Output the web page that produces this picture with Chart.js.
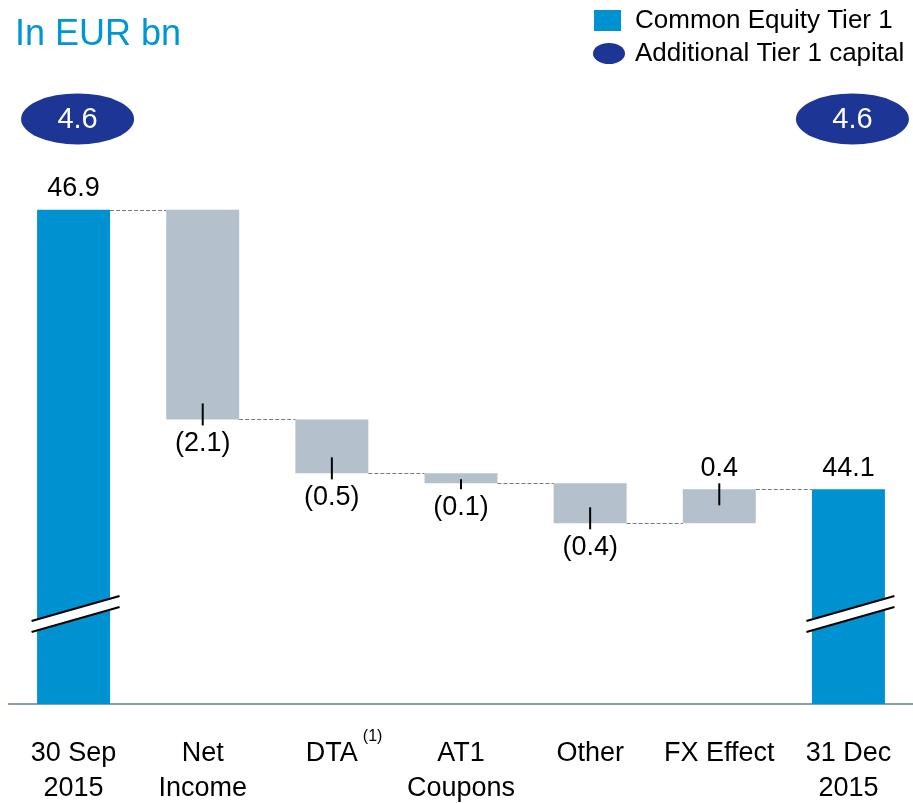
<!DOCTYPE html>
<html>
<head>
<meta charset="utf-8">
<title>CET1 capital walk</title>
<script src="https://cdn.jsdelivr.net/npm/chart.js@4.4.1/dist/chart.umd.min.js"></script>
<style>
  html, body { margin: 0; padding: 0; background: #fff; overflow: hidden; }
  #wrap { width: 913px; height: 803px; }
</style>
</head>
<body>
<div id="wrap"><canvas id="capitalChart" width="913" height="803"></canvas></div>
<script>
// CET1 walk Q3 -> Q4 2015 (EUR bn)

// Data
const categories = [['30 Sep', '2015'], ['Net', 'Income'], ['DTA'], ['AT1', 'Coupons'], ['Other'], ['FX Effect'], ['31 Dec', '2015']];
const footnotes = ['', '', '(1)', '', '', '', ''];
const isTotal = [true, false, false, false, false, false, true];
// CET1 level reached after each column
const cet1Levels = [46.9, 44.8, 44.26, 44.16, 43.76, 44.1, 44.1];
const valueLabels = ['46.9', '(2.1)', '(0.5)', '(0.1)', '(0.4)', '0.4', '44.1'];
const at1Values = [4.6, null, null, null, null, null, 4.6];

// Axis range (broken axis, bottom of the scale is not zero)
const yMin = 41.95;
const yMax = 48.4;
const at1Level = 47.81;   // where the AT1 ovals sit
const breakLevel = 42.84; // where the axis-break marks sit

const FONT = "'Liberation Sans', Arial, sans-serif";
const colors = {
  cet1: '#0091D0',
  step: '#B4C0CC',
  at1: '#1D3594',
  title: '#0096D6',
  axis: '#8A9BB3',
  connector: '#7A7A7A',
  text: '#000000'
};

const barRanges = cet1Levels.map((v, i) => isTotal[i] ? [yMin, v] : [cet1Levels[i - 1], v]);
const barColors = isTotal.map(t => t ? colors.cet1 : colors.step);

// Connectors, value labels, marker ticks, axis breaks, AT1 ovals, title, legend
const overlay = {
  id: 'overlay',
  afterDatasetsDraw(chart) {
    const { ctx, scales: { y } } = chart;
    const bars = chart.getDatasetMeta(0).data;
    ctx.save();

    // dashed connectors
    ctx.strokeStyle = colors.connector;
    ctx.lineWidth = 1;
    ctx.setLineDash([4, 2]);
    for (let i = 0; i < bars.length - 1; i++) {
      const yy = Math.round(y.getPixelForValue(cet1Levels[i])) + 0.5;
      ctx.beginPath();
      ctx.moveTo(bars[i].x + bars[i].width / 2, yy);
      ctx.lineTo(bars[i + 1].x - bars[i + 1].width / 2, yy);
      ctx.stroke();
    }
    ctx.setLineDash([]);

    // small ticks on the movement bars
    ctx.strokeStyle = colors.text;
    ctx.lineWidth = 2;
    bars.forEach((bar, i) => {
      if (isTotal[i]) return;
      const endPx = y.getPixelForValue(cet1Levels[i]);
      const startPx = y.getPixelForValue(cet1Levels[i - 1]);
      const dir = endPx > startPx ? 1 : -1;
      const inward = Math.min(16, Math.abs(endPx - startPx) - 6);
      ctx.beginPath();
      ctx.moveTo(bar.x, endPx - dir * inward);
      ctx.lineTo(bar.x, endPx + dir * 6);
      ctx.stroke();
    });

    // value labels
    ctx.fillStyle = colors.text;
    ctx.font = '27px ' + FONT;
    ctx.textAlign = 'center';
    ctx.textBaseline = 'middle';
    bars.forEach((bar, i) => {
      const endPx = y.getPixelForValue(cet1Levels[i]);
      const startVal = isTotal[i] ? yMin : cet1Levels[i - 1];
      const up = isTotal[i] || cet1Levels[i] >= startVal;
      const topPx = Math.min(endPx, y.getPixelForValue(startVal));
      const botPx = Math.max(endPx, y.getPixelForValue(startVal));
      ctx.fillText(valueLabels[i], bar.x, up ? topPx - 21 : botPx + 24);
    });

    // axis breaks on the total bars
    bars.forEach((bar, i) => {
      if (!isTotal[i]) return;
      const yc = y.getPixelForValue(breakLevel);
      const x0 = bar.x - 42, x1 = bar.x + 46;
      const slope = -25 / 88;
      const y0 = yc - 6 + slope * (x0 - bar.x);
      const y1 = yc - 6 + slope * (x1 - bar.x);
      ctx.fillStyle = '#ffffff';
      ctx.beginPath();
      ctx.moveTo(x0, y0); ctx.lineTo(x1, y1); ctx.lineTo(x1, y1 + 11); ctx.lineTo(x0, y0 + 11);
      ctx.closePath();
      ctx.fill();
      ctx.strokeStyle = colors.text;
      ctx.lineWidth = 2;
      ctx.beginPath();
      ctx.moveTo(x0, y0); ctx.lineTo(x1, y1);
      ctx.moveTo(x0, y0 + 11); ctx.lineTo(x1, y1 + 11);
      ctx.stroke();
    });

    // AT1 ovals
    bars.forEach((bar, i) => {
      if (at1Values[i] == null) return;
      const cx = bar.x + 4;
      const cy = y.getPixelForValue(at1Level);
      ctx.fillStyle = colors.at1;
      ctx.beginPath();
      ctx.ellipse(cx, cy, 56.5, 25.5, 0, 0, Math.PI * 2);
      ctx.fill();
      ctx.fillStyle = '#ffffff';
      ctx.font = '29px ' + FONT;
      ctx.textAlign = 'center';
      ctx.textBaseline = 'middle';
      ctx.fillText(at1Values[i].toFixed(1), cx, cy + 1);
    });
    ctx.restore();
  },
  afterDraw(chart) {
    const { ctx, scales: { x } } = chart;
    ctx.save();

    // footnote superscripts on category labels
    ctx.font = '27px ' + FONT;
    footnotes.forEach((note, i) => {
      if (!note) return;
      const label = Array.isArray(categories[i]) ? categories[i][0] : categories[i];
      const w = ctx.measureText(label).width;
      ctx.save();
      ctx.font = '16px ' + FONT;
      ctx.fillStyle = colors.text;
      ctx.textAlign = 'left';
      ctx.textBaseline = 'middle';
      ctx.fillText(note, x.getPixelForTick(i) + w / 2 + 5, 737);
      ctx.restore();
    });

    // title
    ctx.fillStyle = colors.title;
    ctx.font = '36px ' + FONT;
    ctx.textAlign = 'left';
    ctx.textBaseline = 'alphabetic';
    ctx.fillText('In EUR bn', 15, 45);

    // legend
    ctx.fillStyle = colors.cet1;
    ctx.fillRect(594, 10, 27, 21);
    ctx.fillStyle = colors.at1;
    ctx.beginPath();
    ctx.ellipse(609, 53.5, 16, 10.5, 0, 0, Math.PI * 2);
    ctx.fill();
    ctx.fillStyle = colors.text;
    ctx.font = '26px ' + FONT;
    ctx.fillText('Common Equity Tier 1', 635, 28);
    ctx.fillText('Additional Tier 1 capital', 635, 61);
    ctx.restore();
  }
};

new Chart(document.getElementById('capitalChart'), {
  type: 'bar',
  data: {
    labels: categories,
    datasets: [{
      label: 'Common Equity Tier 1',
      data: barRanges,
      backgroundColor: barColors,
      borderWidth: 0,
      categoryPercentage: 1,
      barPercentage: 0.565
    }]
  },
  options: {
    responsive: false,
    animation: false,
    devicePixelRatio: 1,
    layout: { padding: { top: 60, left: 9, right: 0, bottom: 0 } },
    plugins: {
      legend: { display: false },
      tooltip: { enabled: false }
    },
    scales: {
      x: {
        z: 1,
        grid: { display: false, drawTicks: false },
        border: { display: true, color: colors.axis, width: 2 },
        ticks: {
          color: colors.text,
          padding: 32,
          maxRotation: 0,
          autoSkip: false,
          font: { family: FONT, size: 27, lineHeight: 1.3 }
        },
        afterFit: (scale) => {
          scale.height = 99;
          scale.paddingLeft = 0;
          scale.paddingRight = 0;
        }
      },
      y: { display: false, min: yMin, max: yMax }
    }
  },
  plugins: [overlay]
});
</script>
</body>
</html>
